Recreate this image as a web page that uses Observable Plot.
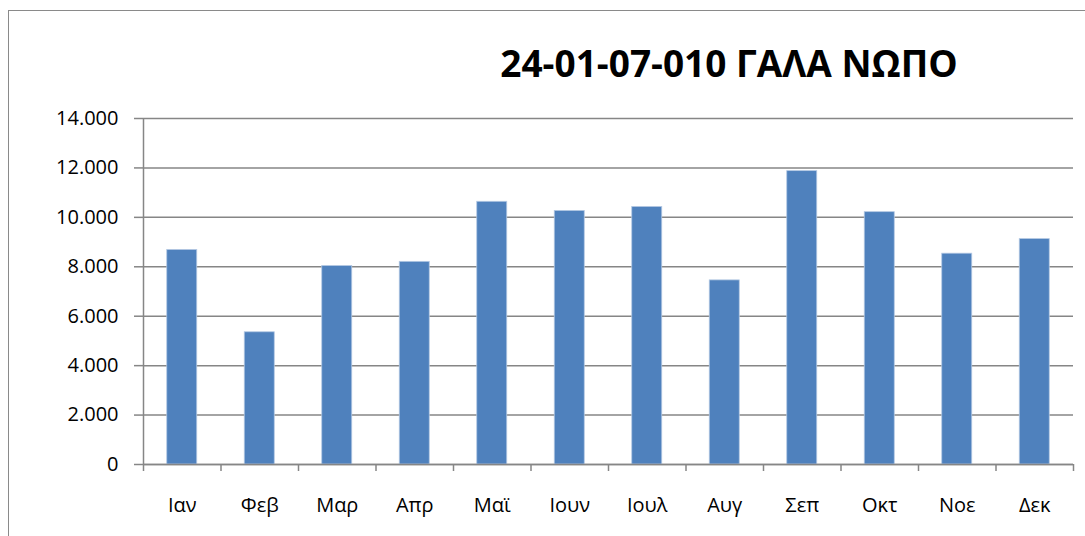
<!DOCTYPE html>
<html>
<head>
<meta charset="utf-8">
<script src="https://cdn.jsdelivr.net/npm/d3@7"></script>
<script src="https://cdn.jsdelivr.net/npm/@observablehq/plot@0.6"></script>
<style>
  html, body { margin: 0; padding: 0; background: #fff; overflow: hidden; }
  #wrap { position: relative; width: 1085px; height: 536px; overflow: hidden; }
  #border { position: absolute; left: 8px; top: 10px; width: 1200px; height: 700px;
            border: 1.5px solid #8a8a8a; box-sizing: border-box; }
  #title { position: absolute; left: 729px; top: 44px; transform: translateX(-50%);
           font-family: "Open Sans", sans-serif; font-weight: 700; font-size: 37px;
           color: #000; white-space: nowrap; line-height: 1; }
  #chart { position: absolute; left: 0; top: 0; }
</style>
</head>
<body>
<div id="wrap">
  <div id="border"></div>
  <div id="chart"></div>
  <div id="title">24-01-07-010 ΓΑΛΑ ΝΩΠΟ</div>
</div>
<script>
const months = ["Ιαν","Φεβ","Μαρ","Απρ","Μαϊ","Ιουν","Ιουλ","Αυγ","Σεπ","Οκτ","Νοε","Δεκ"];
const values = [8680, 5350, 8030, 8200, 10630, 10260, 10420, 7450, 11870, 10210, 8530, 9120];
const yTicks = [0, 2000, 4000, 6000, 8000, 10000, 12000, 14000];

const data = months.map((m, i) => ({month: m, value: values[i]}));

const W = 1085, H = 536;
const mLeft = 143, mRight = 12, mTop = 118, mBottom = 72;
const step = (W - mLeft - mRight) / months.length;
const plotH = H - mTop - mBottom;
const gray = "#868686";

const grLocale = d3.formatLocale({decimal: ",", thousands: ".", grouping: [3], currency: ["", "€"]});
const fmt = grLocale.format(",d");

const chart = Plot.plot({
  width: W,
  height: H,
  marginLeft: mLeft,
  marginRight: mRight,
  marginTop: mTop,
  marginBottom: mBottom,
  style: {fontFamily: "'Open Sans', sans-serif", fontSize: "20px", color: "#000", background: "transparent"},
  x: {domain: months, paddingInner: 0.613, paddingOuter: 0.3065, round: false, label: null},
  y: {domain: [0, 14000], label: null},
  marks: [
    Plot.gridY(yTicks, {stroke: gray, strokeOpacity: 1, strokeWidth: 1.5}),
    Plot.axisY({ticks: yTicks, tickFormat: fmt, tickSize: 9, tickPadding: 16, stroke: gray, strokeWidth: 1.5, fill: "#000", fontSize: 20}),
    Plot.barY(data, {x: "month", y: "value", fill: "#4F81BD", stroke: "#b3c8e3", strokeWidth: 0.8}),
    Plot.ruleY([0], {stroke: gray, strokeWidth: 1.5}),
    // vertical axis line (left edge of first band)
    Plot.ruleX([months[0]], {dx: -step / 2, stroke: gray, strokeWidth: 1.5}),
    // category boundary ticks below the axis
    Plot.ruleX(months, {dx: -step / 2, stroke: gray, strokeWidth: 1.5, insetTop: plotH, insetBottom: -7}),
    Plot.ruleX([months[months.length - 1]], {dx: step / 2, stroke: gray, strokeWidth: 1.5, insetTop: plotH, insetBottom: -7}),
    Plot.axisX({tickSize: 0, tickPadding: 33, fill: "#000", fontSize: 20})
  ]
});
document.getElementById("chart").appendChild(chart);
</script>
</body>
</html>
